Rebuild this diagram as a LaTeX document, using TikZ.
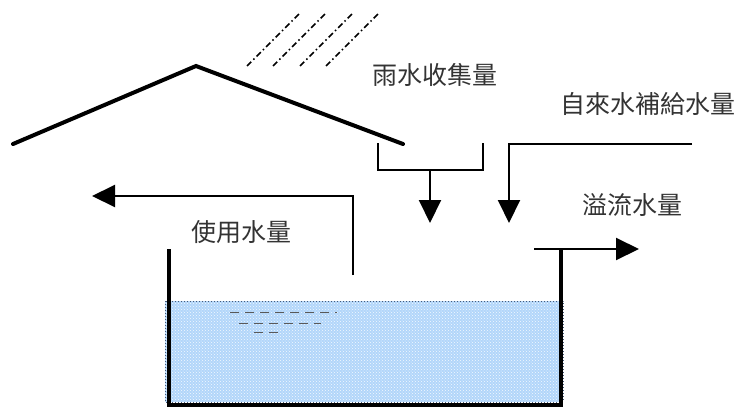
\documentclass[tikz,border=0pt]{standalone}
\usepackage{fontspec}
\newfontfamily\cjk{Noto Sans CJK TC}
\usetikzlibrary{arrows.meta,patterns}
\definecolor{waterblue}{RGB}{178,214,250}
\definecolor{wateredge}{RGB}{70,90,120}
\begin{document}
\begin{tikzpicture}[x=1pt,y=-1pt,
  roof/.style={line width=4pt, line cap=round},
  wall/.style={line width=4pt},
  pipe/.style={line width=2pt},
  flow/.style={line width=2pt, -{Triangle[length=23pt,width=22pt]}},
  rain/.style={line width=1.6pt, dash pattern=on 6pt off 3pt on 1.5pt off 3pt},
  speck/.style={line width=1pt, draw=black!65, dash pattern=on 9pt off 6pt},
  lbl/.style={font=\cjk\fontsize{25}{25}\selectfont, text=black!80, inner sep=0pt}]
\useasboundingbox (0,0) rectangle (743,407);

% water in the tank
\fill[waterblue] (165,301) rectangle (563,402);
\fill[pattern=crosshatch dots, pattern color=white!85!waterblue] (165,301) rectangle (563,402);
\draw[wateredge, line width=1pt, dotted] (165,301) rectangle (563,402);

% small specks floating in the water
\draw[speck] (230,312) -- (337,312);
\draw[speck] (239,323) -- (321,323);
\draw[speck] (254,332) -- (280,332);

% roof
\coordinate (eaveL) at (13,144);
\coordinate (ridge) at (196,66);
\coordinate (eaveR) at (403,144);
\draw[roof] (eaveL) -- (ridge) -- (eaveR);

% rain
\foreach \dx in {0,26,53,79}
  \draw[rain] (247+\dx,66) -- (300+\dx,13);

% gutter and collected rain
\coordinate (gutL) at (378,143);
\coordinate (gutR) at (483,143);
\coordinate (gutC) at (430,170);
\coordinate (rainIn) at (430,223);
\draw[pipe] (gutL) |- (gutC) -| (gutR);
\draw[flow] (gutC) -- (rainIn);

% tap water supply
\coordinate (tapStart) at (692,144);
\coordinate (tapIn) at (509,223);
\draw[flow] (tapStart) -| (tapIn);

% overflow
\coordinate (ovStart) at (534,249);
\coordinate (ovOut) at (639,249);
\draw[flow] (ovStart) -- (ovOut);

% water use
\coordinate (useStart) at (353,275);
\coordinate (useOut) at (92,196);
\draw[flow] (useStart) |- (useOut);

% tank
\coordinate (tankTL) at (169,249);
\coordinate (tankBL) at (169,403);
\coordinate (tankBR) at (561,403);
\coordinate (tankTR) at (561,249);
\draw[wall] (tankTL) -- ([yshift=-2pt]tankBL) -- ([yshift=-2pt]tankBR) -- (tankTR);

% labels
\node[lbl] (rainLbl) at (435,75) {雨水收集量};
\node[lbl] (tapLbl) at (648,104) {自來水補給水量};
\node[lbl] (ovLbl) at (632,205) {溢流水量};
\node[lbl] (useLbl) at (241,232) {使用水量};
\end{tikzpicture}
\end{document}
